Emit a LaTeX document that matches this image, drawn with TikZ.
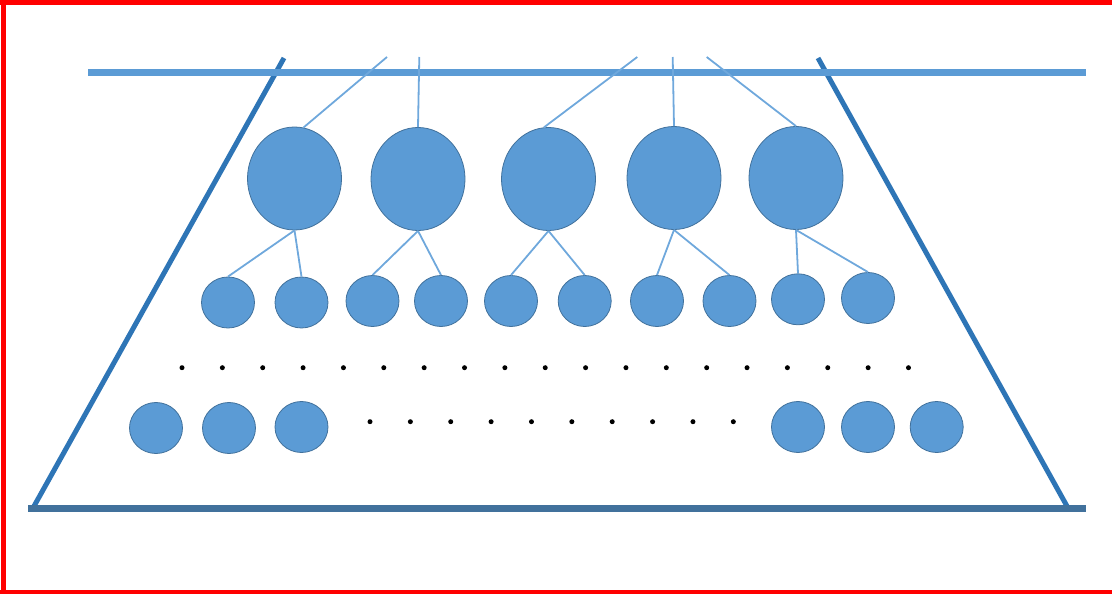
\documentclass[tikz,border=0pt]{standalone}
\usetikzlibrary{shapes.geometric}
\definecolor{fillblue}{HTML}{5B9BD5}
\definecolor{edgeblue}{HTML}{41719C}
\definecolor{sideblue}{HTML}{2E75B6}
\definecolor{linkblue}{HTML}{6FA8DC}
\tikzset{
  big/.style={ellipse, fill=fillblue, draw=edgeblue, line width=0.8pt, minimum width=94pt, minimum height=103pt, inner sep=0pt},
  small/.style={ellipse, fill=fillblue, draw=edgeblue, line width=0.8pt, minimum width=53pt, minimum height=51pt, inner sep=0pt},
  link/.style={draw=linkblue, line width=1.8pt},
  dotnode/.style={circle, fill=black, inner sep=0pt, minimum size=5pt},
  sideline/.style={draw=sideblue, line width=5pt},
}
\begin{document}
\begin{tikzpicture}[x=1pt,y=-1pt]
\useasboundingbox (0,0) rectangle (1112,594);
% red frame (top, left, bottom)
\fill[red] (0,0) rectangle (1112,5);
\fill[red] (1,0) rectangle (6,594);
\fill[red] (0,590) rectangle (1112,594);

% trapezoid sides
\coordinate (lt) at (284,58);
\coordinate (lb) at (33,508);
\coordinate (rt) at (818,58);
\coordinate (rb) at (1068,508);
\draw[sideline] (lt) -- (lb);
\draw[sideline] (rt) -- (rb);
% bottom line
\coordinate (bl) at (28,508.5);
\coordinate (br) at (1086,508.5);
\draw[draw=edgeblue, line width=7pt] (bl) -- (br);
% top line
\coordinate (tl) at (88,72.5);
\coordinate (tr) at (1086,72.5);
\draw[draw=fillblue, line width=7pt] (tl) -- (tr);

% top circles
\node[big] (t1) at (294.5,178.5) {};
\node[big] (t2) at (418,179) {};
\node[big] (t3) at (548.5,179) {};
\node[big] (t4) at (674,178) {};
\node[big] (t5) at (796,178) {};

% free ends above
\coordinate (u1) at (387,57);
\coordinate (u2) at (419.3,57);
\coordinate (u3) at (637.3,57);
\coordinate (u4) at (672.7,57);
\coordinate (u5) at (706.7,57);
\draw[link] (u1) -- (t1.80);
\draw[link] (u2) -- (t2.north);
\draw[link] (u3) -- (t3.95);
\draw[link] (u4) -- (t4.north);
\draw[link] (u5) -- (t5.north);

% middle circles
\node[small] (m1) at (228,302.5) {};
\node[small] (m2) at (301.5,302.5) {};
\node[small] (m3) at (372.5,301) {};
\node[small] (m4) at (441,301) {};
\node[small] (m5) at (511,301) {};
\node[small] (m6) at (584.7,301) {};
\node[small] (m7) at (657,301) {};
\node[small] (m8) at (729.5,301) {};
\node[small] (m9) at (798,299.3) {};
\node[small] (m10) at (868,298) {};

\draw[link] (t1.south) -- (m1.north);
\draw[link] (t1.south) -- (m2.north);
\draw[link] (t2.south) -- (m3.north);
\draw[link] (t2.south) -- (m4.north);
\draw[link] (t3.south) -- (m5.north);
\draw[link] (t3.south) -- (m6.north);
\draw[link] (t4.south) -- (m7.north);
\draw[link] (t4.south) -- (m8.north);
\draw[link] (t5.south) -- (m9.north);
\draw[link] (t5.south) -- (m10.north);

% dotted rows
\foreach \i in {0,...,18} {
  \node[dotnode] (da\i) at ({182+40.36*\i},367.7) {};
}
\foreach \i in {0,...,9} {
  \node[dotnode] (db\i) at ({370+40.37*\i},421.7) {};
}

% bottom circles
\node[small] (b1) at (156,428) {};
\node[small] (b2) at (229,428) {};
\node[small] (b3) at (301.5,427) {};
\node[small] (b4) at (798,427) {};
\node[small] (b5) at (868,427) {};
\node[small] (b6) at (936.7,427) {};
\end{tikzpicture}
\end{document}
